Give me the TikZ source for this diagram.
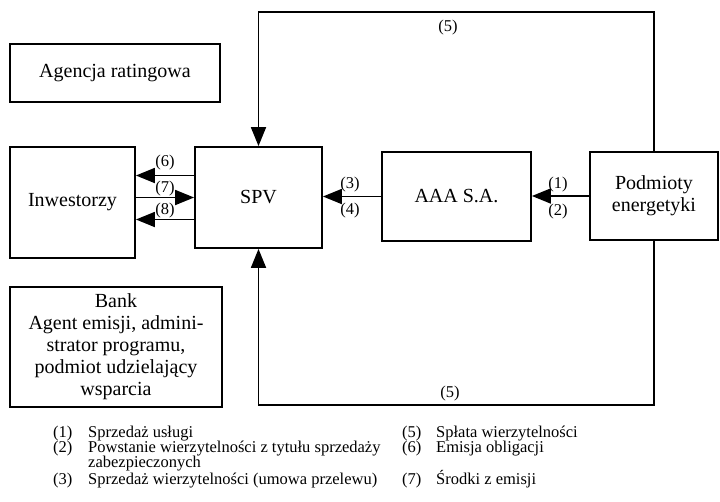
\documentclass[tikz,border=0pt]{standalone}
\usepackage{fontspec}
\setmainfont{Liberation Serif}
\usetikzlibrary{arrows.meta}

\begin{document}
\begin{tikzpicture}[x=1pt, y=-1pt,
	box/.style={draw, line width=1.8pt, align=center, inner sep=0pt,
		font=\fontsize{20}{22}\selectfont},
	lab/.style={inner sep=0pt, font=\fontsize{16.5}{16.5}\selectfont},
	leg/.style={inner sep=0pt, anchor=base west, font=\fontsize{16.5}{16.5}\selectfont},
	flow/.style={line width=1.8pt, -{Triangle[length=19pt, width=15pt]}}]
	\useasboundingbox (0,0) rectangle (720,501);
	% boxes
	\node[box, minimum width=210, minimum height=58] (agency) at (115,73) {Agencja ratingowa};
	\node[box, minimum width=125, minimum height=111] (inv) at (72.5,202.5) {Inwestorzy};
	\node[box, minimum width=127, minimum height=101] (spv) at (258.5,197.5) {SPV};
	\node[box, minimum width=149, minimum height=89] (aaa) at (456.5,196.5) {AAA S.A.};
	\node[box, minimum width=128, minimum height=88] (energy) at (654,196) {Podmioty\\energetyki};
	\node[box, minimum width=212, minimum height=120] (bank) at (116,347)
		{Bank\\Agent emisji, admini-\\strator programu,\\podmiot udzielający\\wsparcia};
	% flows
	\draw[flow] ([yshift=22pt]spv.west) -- ([yshift=22pt]spv.west -| inv.east);
	\draw[flow] (inv.east |- spv.west) -- (spv.west);
	\draw[flow] ([yshift=-22pt]spv.west) -- ([yshift=-22pt]spv.west -| inv.east);
	\draw[flow] (aaa.west) -- (aaa.west -| spv.east);
	\draw[flow] (energy.west) -- (energy.west -| aaa.east);
	\coordinate (top) at (450,12);
	\coordinate (bottom) at (450,405);
	\draw[flow] (energy.north) |- (top) -| (spv.north);
	\draw[flow] (energy.south) |- (bottom) -| (spv.south);
	% labels
	\node[lab] (l6) at (165,163) {(6)};
	\node[lab] (l7) at (165,189) {(7)};
	\node[lab] (l8) at (165,211) {(8)};
	\node[lab] (l3) at (350,185) {(3)};
	\node[lab] (l4) at (350,211) {(4)};
	\node[lab] (l1) at (558,185) {(1)};
	\node[lab] (l2) at (558,212) {(2)};
	\node[lab] (l5top) at (448,28) {(5)};
	\node[lab] (l5bot) at (450,394) {(5)};
	% legend
	\node[leg] (n1) at (53,437) {(1)};
	\node[leg] (t1) at (88,437) {Sprzedaż usługi};
	\node[leg] (n2) at (53,452) {(2)};
	\node[leg] (t2) at (88,452) {Powstanie wierzytelności z tytułu sprzedaży};
	\node[leg] (t2b) at (88,467) {zabezpieczonych};
	\node[leg] (n3) at (53,484) {(3)};
	\node[leg] (t3) at (88,484) {Sprzedaż wierzytelności (umowa przelewu)};
	\node[leg] (n5) at (402,437) {(5)};
	\node[leg] (t5) at (436,437) {Spłata wierzytelności};
	\node[leg] (n6) at (402,452) {(6)};
	\node[leg] (t6) at (436,452) {Emisja obligacji};
	\node[leg] (n7) at (402,484) {(7)};
	\node[leg] (t7) at (436,484) {Środki z emisji};
\end{tikzpicture}
\end{document}
